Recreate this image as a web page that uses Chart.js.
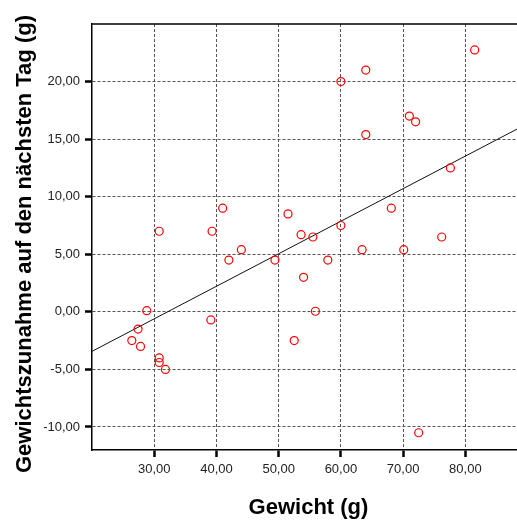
<!DOCTYPE html>
<html>
<head>
<meta charset="utf-8">
<script src="https://cdn.jsdelivr.net/npm/chart.js@4.4.1/dist/chart.umd.min.js"></script>
<style>
  body { margin: 0; background: #fff; }
  #wrap { width: 517px; height: 520px; }
</style>
</head>
<body>
<div id="wrap"><canvas id="scatterChart" width="517" height="520"></canvas></div>
<script>
// Gewicht (g) und Gewichtszunahme auf den nächsten Tag (g)
const gewicht = [41.0, 51.5, 60.0, 64.0, 81.5, 71.0, 72.0, 64.0, 77.6, 68.1, 60.0, 30.8,
    39.3, 53.6, 55.5, 76.2, 44.0, 63.4, 70.1, 42.0, 49.4, 57.9, 54.0, 28.8, 55.9, 39.1,
    27.4, 26.4, 52.5, 27.8, 30.8, 30.8, 31.8, 72.5];
const zunahme = [9.0, 8.5, 20.0, 21.0, 22.75, 17.0, 16.5, 15.4, 12.5, 9.0, 7.5, 7.0,
    7.0, 6.7, 6.5, 6.5, 5.4, 5.4, 5.4, 4.5, 4.5, 4.5, 3.0, 0.1, 0.05, -0.7,
    -1.5, -2.5, -2.5, -3.0, -4.0, -4.4, -5.0, -10.5];

const xTicks = [30, 40, 50, 60, 70, 80];
const yTicks = [-10, -5, 0, 5, 10, 15, 20];
const xRange = [20, 88.3];
const yRange = [-12, 25];

const xTitle = "Gewicht (g)";
const yTitle = "Gewichtszunahme auf den nächsten Tag (g)";

const fontFamily = "'Liberation Sans', Arial, sans-serif";

function formatDe(v) {
    return v.toFixed(2).replace(".", ",");
}

// lineare Regression aus den Daten
function fitLine(xs, ys) {
    const n = xs.length;
    const mx = xs.reduce((a, b) => a + b, 0) / n;
    const my = ys.reduce((a, b) => a + b, 0) / n;
    let sxy = 0, sxx = 0;
    for (let i = 0; i < n; i++) {
        sxy += (xs[i] - mx) * (ys[i] - my);
        sxx += (xs[i] - mx) * (xs[i] - mx);
    }
    const slope = sxy / sxx;
    return { slope: slope, intercept: my - slope * mx };
}

const fit = fitLine(gewicht, zunahme);
const fitPoints = xRange.map(x => ({ x: x, y: fit.intercept + fit.slope * x }));
const points = gewicht.map((x, i) => ({ x: x, y: zunahme[i] }));

// oberer Rahmen + Achsentitel
const frameAndTitles = {
    id: "frameAndTitles",
    afterDraw(chart) {
        const { ctx, chartArea } = chart;
        ctx.save();
        ctx.strokeStyle = "#000";
        ctx.lineWidth = 1.5;
        ctx.beginPath();
        ctx.moveTo(chartArea.left, chartArea.top);
        ctx.lineTo(chartArea.right, chartArea.top);
        ctx.stroke();

        ctx.fillStyle = "#000";
        ctx.font = "bold 22px " + fontFamily;
        ctx.textAlign = "center";
        ctx.textBaseline = "alphabetic";
        ctx.fillText(xTitle, (chartArea.left + chartArea.right) / 2 + 4, chart.height - 6);

        ctx.translate(31, (chartArea.top + chartArea.bottom) / 2 + 7);
        ctx.rotate(-Math.PI / 2);
        ctx.fillText(yTitle, 0, 0);
        ctx.restore();
    }
};

const ctx = document.getElementById("scatterChart").getContext("2d");
new Chart(ctx, {
    type: "scatter",
    data: {
        datasets: [{
            data: points,
            pointStyle: "circle",
            pointRadius: 4,
            pointBorderWidth: 1.2,
            pointBorderColor: "#ff0000",
            pointBackgroundColor: "rgba(0,0,0,0)",
            order: 1
        }, {
            type: "line",
            data: fitPoints,
            borderColor: "#111",
            borderWidth: 1,
            pointRadius: 0,
            fill: false,
            order: 2
        }]
    },
    options: {
        responsive: false,
        animation: false,
        layout: { autoPadding: false, padding: { top: 24, right: 0, bottom: 0, left: 0 } },
        plugins: {
            legend: { display: false },
            tooltip: { enabled: false }
        },
        scales: {
            x: {
                type: "linear",
                min: xRange[0],
                max: xRange[1],
                afterBuildTicks: scale => { scale.ticks = xTicks.map(v => ({ value: v })); },
                afterFit: scale => {
                    scale.height = 70;
                    scale.paddingLeft = 0;
                    scale.paddingRight = 0;
                },
                grid: {
                    color: "#555",
                    lineWidth: 1,
                    tickColor: "#000",
                    tickWidth: 2.5,
                    tickLength: 7
                },
                border: { color: "#000", width: 1.5, dash: [3, 2] },
                ticks: {
                    padding: 5,
                    color: "#222",
                    font: { family: fontFamily, size: 13 },
                    callback: v => formatDe(v)
                }
            },
            y: {
                type: "linear",
                min: yRange[0],
                max: yRange[1],
                afterBuildTicks: scale => { scale.ticks = yTicks.map(v => ({ value: v })); },
                afterFit: scale => {
                    scale.width = 92;
                    scale.paddingTop = 0;
                    scale.paddingBottom = 0;
                },
                grid: {
                    color: "#555",
                    lineWidth: 1,
                    tickColor: "#000",
                    tickWidth: 2.5,
                    tickLength: 7
                },
                border: { color: "#000", width: 1.5, dash: [3, 2] },
                ticks: {
                    padding: 5,
                    color: "#222",
                    font: { family: fontFamily, size: 13 },
                    callback: v => formatDe(v)
                }
            }
        }
    },
    plugins: [frameAndTitles]
});
</script>
</body>
</html>
